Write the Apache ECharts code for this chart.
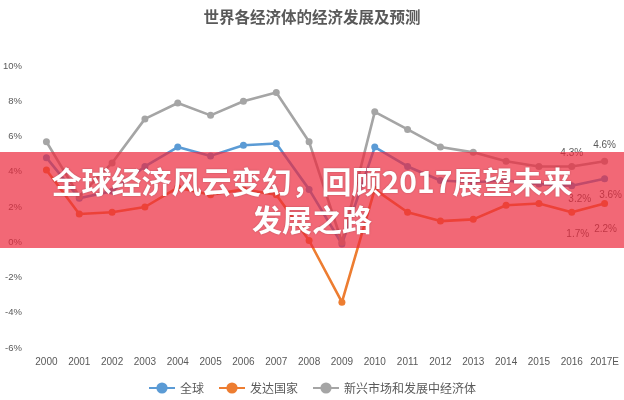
<!DOCTYPE html>
<html>
<head>
<meta charset="utf-8">
<script src="https://cdn.jsdelivr.net/npm/echarts@6/dist/echarts.min.js"></script>
<style>
html,body{margin:0;padding:0;background:#fff;}
#chart{width:624px;height:400px;}
</style>
</head>
<body>
<div id="chart"></div>
<script>
const chartTitle = '世界各经济体的经济发展及预测';
const bannerLines = ['全球经济风云变幻，回顾2017展望未来', '发展之路'];
const years = ['2000','2001','2002','2003','2004','2005','2006','2007','2008','2009','2010','2011','2012','2013','2014','2015','2016','2017E'];
const seriesNames = ['全球', '发达国家', '新兴市场和发展中经济体'];
const globalGrowth = [4.8, 2.5, 2.9, 4.3, 5.4, 4.9, 5.5, 5.6, 3.0, -0.1, 5.4, 4.3, 3.5, 3.4, 3.5, 3.3, 3.2, 3.6];
const developedGrowth = [4.1, 1.6, 1.7, 2.0, 3.1, 2.7, 3.0, 2.7, 0.1, -3.4, 3.0, 1.7, 1.2, 1.3, 2.1, 2.2, 1.7, 2.2];
const emergingGrowth = [5.7, 2.6, 4.5, 7.0, 7.9, 7.2, 8.0, 8.5, 5.7, 0.0, 7.4, 6.4, 5.4, 5.1, 4.6, 4.3, 4.3, 4.6];
const yTicks = [-6, -4, -2, 0, 2, 4, 6, 8, 10];

const colors = ['#5b9bd5', '#ed7d31', '#a5a5a5'];
const latin = "'Liberation Sans', Arial, sans-serif";
const cjk = "'Noto Sans CJK SC', 'Noto Sans', sans-serif";

// labels for the last two points
function buildData(values, pos, offsets) {
  return values.map((v, i) => {
    const k = i - (values.length - 2);
    if (k >= 0) {
      return {
        value: v,
        label: {
          show: true,
          position: pos,
          offset: offsets[k],
          formatter: (p) => p.value.toFixed(1) + '%',
          color: '#595959',
          fontFamily: latin,
          fontSize: 10
        }
      };
    }
    return v;
  });
}

const chart = echarts.init(document.getElementById('chart'));
const lineSeries = (name, values, color, pos, offsets) => ({
  name: name,
  type: 'line',
  data: buildData(values, pos, offsets),
  symbol: 'circle',
  symbolSize: 7,
  lineStyle: { width: 2.6, color: color },
  itemStyle: { color: color },
  z: 3
});

chart.setOption({
  animation: false,
  title: {
    text: chartTitle,
    left: 'center',
    top: 4,
    textStyle: { fontFamily: cjk, fontSize: 15.5, fontWeight: 'bold', color: '#595959' }
  },
  legend: {
    data: seriesNames,
    top: 377,
    left: 'center',
    itemWidth: 26,
    itemHeight: 14,
    itemGap: 14,
    itemTextGap: 3,
    textStyle: { fontFamily: cjk, fontSize: 12, color: '#595959' }
  },
  grid: { left: 27, right: 3, top: 66, bottom: 52, containLabel: false },
  xAxis: {
    type: 'category',
    data: years,
    boundaryGap: true,
    axisLine: { show: false },
    axisTick: { show: false },
    axisLabel: { fontFamily: latin, fontSize: 10, color: '#595959', margin: 9, interval: 0 }
  },
  yAxis: {
    type: 'value',
    min: yTicks[0],
    max: yTicks[yTicks.length - 1],
    interval: 2,
    splitLine: { show: false },
    axisLine: { show: false },
    axisTick: { show: false },
    axisLabel: { fontFamily: latin, fontSize: 9.5, color: '#595959', margin: 8, formatter: '{value}%' }
  },
  series: [
    lineSeries(seriesNames[0], globalGrowth, colors[0], 'bottom', [[8, 0], [6, 3]]),
    lineSeries(seriesNames[1], developedGrowth, colors[1], 'bottom', [[6, 8], [1, 12]]),
    lineSeries(seriesNames[2], emergingGrowth, colors[2], 'top', [[0, 0], [0, -2]])
  ],
  graphic: [
    {
      type: 'rect',
      left: 0,
      top: 152,
      z: 100,
      shape: { width: 624, height: 96 },
      style: { fill: 'rgba(236, 40, 60, 0.7)' }
    },
    {
      type: 'text',
      x: 312,
      y: 182,
      z: 101,
      style: {
        text: bannerLines[0],
        fill: '#ffffff',
        font: "bold 30px 'Noto Sans CJK SC', sans-serif",
        textAlign: 'center',
        textVerticalAlign: 'middle',
        textShadowColor: 'rgba(0,0,0,0.25)',
        textShadowBlur: 2
      }
    },
    {
      type: 'text',
      x: 312,
      y: 220,
      z: 101,
      style: {
        text: bannerLines[1],
        fill: '#ffffff',
        font: "bold 30px 'Noto Sans CJK SC', sans-serif",
        textAlign: 'center',
        textVerticalAlign: 'middle',
        textShadowColor: 'rgba(0,0,0,0.25)',
        textShadowBlur: 2
      }
    }
  ]
});
</script>
</body>
</html>
